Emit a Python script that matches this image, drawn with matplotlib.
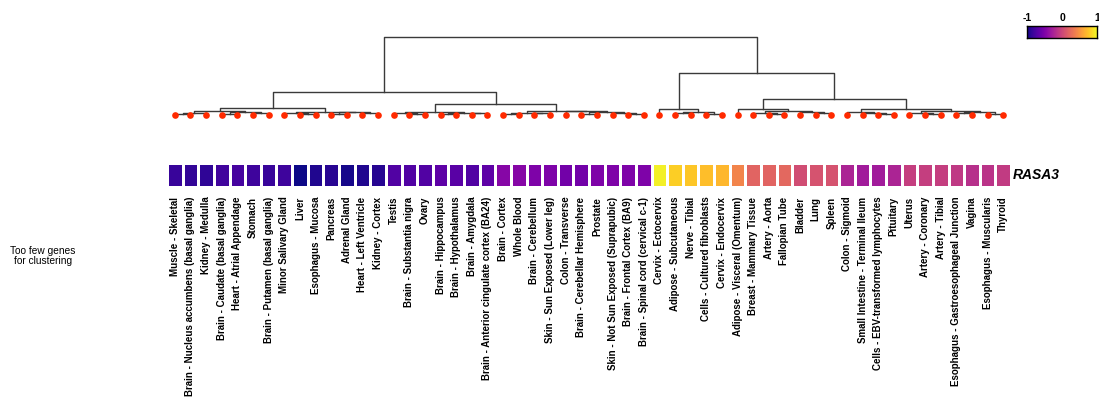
import numpy as np
import matplotlib
matplotlib.use("Agg")
import matplotlib.pyplot as plt

plt.rcParams['font.family'] = ['Liberation Sans', 'DejaVu Sans']

# tissues in dendrogram leaf order
tissues = [
    "Muscle - Skeletal", "Brain - Nucleus accumbens (basal ganglia)", "Kidney - Medulla",
    "Brain - Caudate (basal ganglia)", "Heart - Atrial Appendage", "Stomach",
    "Brain - Putamen (basal ganglia)", "Minor Salivary Gland", "Liver", "Esophagus - Mucosa",
    "Pancreas", "Adrenal Gland", "Heart - Left Ventricle", "Kidney - Cortex", "Testis",
    "Brain - Substantia nigra", "Ovary", "Brain - Hippocampus", "Brain - Hypothalamus",
    "Brain - Amygdala", "Brain - Anterior cingulate cortex (BA24)", "Brain - Cortex",
    "Whole Blood", "Brain - Cerebellum", "Skin - Sun Exposed (Lower leg)", "Colon - Transverse",
    "Brain - Cerebellar Hemisphere", "Prostate", "Skin - Not Sun Exposed (Suprapubic)",
    "Brain - Frontal Cortex (BA9)", "Brain - Spinal cord (cervical c-1)", "Cervix - Ectocervix",
    "Adipose - Subcutaneous", "Nerve - Tibial", "Cells - Cultured fibroblasts",
    "Cervix - Endocervix", "Adipose - Visceral (Omentum)", "Breast - Mammary Tissue",
    "Artery - Aorta", "Fallopian Tube", "Bladder", "Lung", "Spleen", "Colon - Sigmoid",
    "Small Intestine - Terminal Ileum", "Cells - EBV-transformed lymphocytes", "Pituitary",
    "Uterus", "Artery - Coronary", "Artery - Tibial", "Esophagus - Gastroesophageal Junction",
    "Vagina", "Esophagus - Muscularis", "Thyroid",
]

# scaled expression of RASA3 (-1 .. 1)
rasa3 = [
    -0.84, -0.86, -0.88, -0.80, -0.78, -0.82, -0.84, -0.82, -1.00, -0.94,
    -0.91, -0.97, -0.94, -0.92, -0.72, -0.72, -0.72, -0.66, -0.68, -0.72,
    -0.66, -0.46, -0.46, -0.50, -0.50, -0.56, -0.56, -0.50, -0.50, -0.50,
    -0.50, 0.96, 0.80, 0.76, 0.72, 0.68, 0.40, 0.20, 0.20, 0.22,
    0.04, 0.08, 0.08, -0.24, -0.30, -0.30, -0.24, -0.06, -0.06, -0.06,
    -0.10, -0.16, -0.14, -0.08,
]

# dendrogram: (height, left, right), leaves are indices into tissues
left_a = (0.045, (0.03, (0.01, 0, 1), 2), (0.035, (0.015, 3, 4), (0.02, 5, 6)))
left_b = (0.04, (0.025, 7, (0.012, 8, 9)), (0.035, (0.015, 10, 11), (0.02, 12, 13)))
mid_a = (0.035, (0.02, 14, (0.01, 15, 16)), (0.03, (0.015, 17, 18), (0.02, 19, 20)))
mid_b = (0.055, (0.03, (0.012, 21, 22), (0.02, 23, 24)),
         (0.045, 25, (0.035, (0.015, 26, 27), (0.025, 28, (0.01, 29, 30)))))
right_a = (0.073, 31, (0.04, (0.02, 32, 33), (0.015, 34, 35)))
right_b = (0.077, 36, (0.045, (0.03, 37, (0.015, 38, 39)), (0.035, 40, (0.02, 41, 42))))
right_c = (0.081, (0.04, 43, (0.03, 44, (0.015, 45, 46))),
           (0.05, (0.03, 47, (0.015, 48, 49)), (0.035, (0.02, 50, 51), (0.015, 52, 53))))
tree = (1.0,
        (0.295, (0.09, left_a, left_b), (0.137, mid_a, mid_b)),
        (0.538, right_a, (0.205, right_b, right_c)))

fig = plt.figure(figsize=(10.99, 4.08), dpi=100)

# dendrogram
ax_d = fig.add_axes([0.152, 0.701, 0.768, 0.2255])


def draw(node):
    if isinstance(node, int):
        return node + 0.5, 0.0
    h, a, b = node
    xa, ha = draw(a)
    xb, hb = draw(b)
    ax_d.plot([xa, xa, xb, xb], [ha, h, h, hb], color="#3a3a3a", lw=1.0, zorder=1)
    return (xa + xb) / 2, h


draw(tree)
leaf_x = np.arange(len(tissues)) + 0.5
ax_d.plot(leaf_x, np.zeros(len(tissues)), "o", color="#ff2a00", ms=4.8, mec="none", zorder=2)
ax_d.set_xlim(0, len(tissues))
ax_d.set_ylim(-0.09, 1.09)
ax_d.axis("off")

# heatmap row
ax_h = fig.add_axes([0.152, 0.5417, 0.768, 0.0588])
ax_h.pcolormesh(np.array([rasa3]), cmap="plasma", vmin=-1, vmax=1,
                edgecolors="white", linewidth=1.0)
ax_h.set_xlim(0, len(tissues))
ax_h.set_ylim(0, 1)
ax_h.set_xticks(leaf_x)
ax_h.set_xticklabels(tissues, rotation=90, fontsize=7.0, fontweight="bold")
ax_h.tick_params(axis="x", length=0, pad=7)
ax_h.set_yticks([])
for s in ax_h.spines.values():
    s.set_visible(False)

fig.text(1013 / 1099, 1 - 175 / 408, "RASA3", fontsize=10, fontweight="bold",
         style="italic", va="center", ha="left")

fig.text(43 / 1099, 1 - 256 / 408, "Too few genes\nfor clustering", fontsize=7.3,
         ha="center", va="center", linespacing=1.1)

# colorbar
ax_c = fig.add_axes([0.9345, 0.9069, 0.0637, 0.0294])
grad = np.linspace(-1, 1, 256)
ax_c.pcolormesh(grad, [0, 1], np.array([grad[:-1]]), cmap="plasma", vmin=-1, vmax=1)
ax_c.set_xlim(-1, 1)
ax_c.set_yticks([])
ax_c.set_xticks([-1, 0, 1])
ax_c.set_xticklabels(["-1", "0", "1"], fontsize=7.5, fontweight="bold")
ax_c.xaxis.set_ticks_position("top")
ax_c.tick_params(axis="x", length=0, pad=2)
for s in ax_c.spines.values():
    s.set_linewidth(1.0)

fig.savefig("out.png", dpi=100)
